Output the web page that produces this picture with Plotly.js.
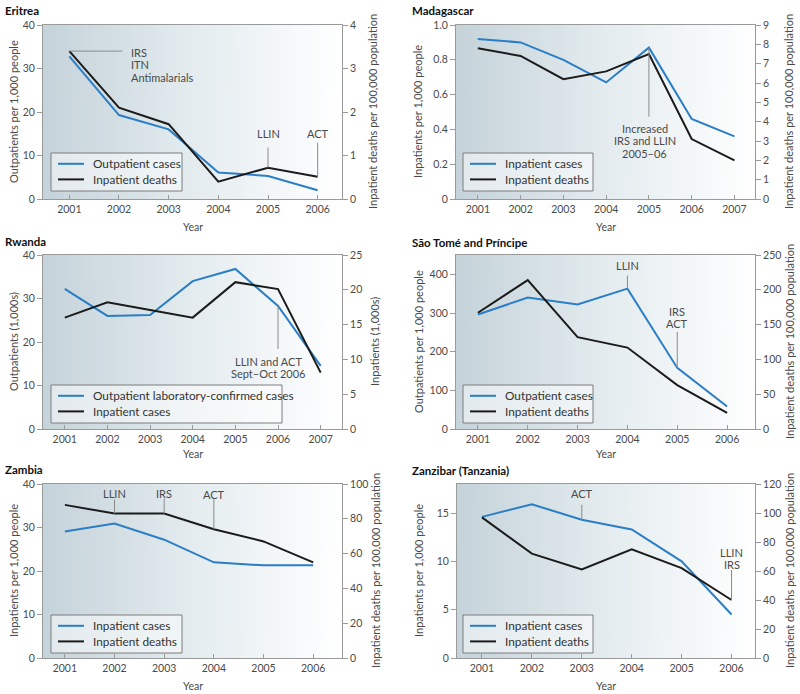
<!DOCTYPE html>
<html><head><meta charset="utf-8">
<script src="https://cdn.plot.ly/plotly-3.0.1.min.js"></script>
<style>html,body{margin:0;padding:0;background:#fff}</style>
</head><body><div id="chart" style="width:800px;height:694px"></div>
<script>
// ---------------- DATA ----------------
const erYears = [2001, 2002, 2003, 2004, 2005, 2006];
const erOutpatients = [32.8, 19.3, 16.0, 6.1, 5.3, 2.0];
const erDeaths = [3.4, 2.1, 1.72, 0.4, 0.72, 0.51];

const madYears = [2001, 2002, 2003, 2004, 2005, 2006, 2007];
const madCases = [0.92, 0.90, 0.80, 0.67, 0.87, 0.46, 0.36];
const madDeaths = [7.8, 7.4, 6.2, 6.6, 7.5, 3.1, 2.0];

const rwYears = [2001, 2002, 2003, 2004, 2005, 2006, 2007];
const rwOutpatients = [32.2, 26.0, 26.2, 34.0, 36.8, 28.3, 14.5];
const rwInpatients = [16.0, 18.2, 17.1, 16.0, 21.1, 20.1, 8.1];

const stpYears = [2001, 2002, 2003, 2004, 2005, 2006];
const stpOutpatients = [296, 340, 322, 363, 158, 58];
const stpDeaths = [167, 214, 132, 117, 63, 23];

const zmYears = [2001, 2002, 2003, 2004, 2005, 2006];
const zmCases = [29.1, 30.9, 27.2, 22.0, 21.3, 21.3];
const zmDeaths = [88, 83, 83, 74, 67, 55];

const zzYears = [2001, 2002, 2003, 2004, 2005, 2006];
const zzCases = [14.6, 15.9, 14.3, 13.3, 10.0, 4.5];
const zzDeaths = [97, 72, 61, 75, 62, 40];

// tick labels
const erLeftTicks = [0, 10, 20, 30, 40];
const erRightTicks = [0, 1, 2, 3, 4];
const madLeftTicks = [0, 0.2, 0.4, 0.6, 0.8, 1.0];
const madLeftLabels = ['0', '0.2', '0.4', '0.6', '0.8', '1.0'];
const madRightTicks = [0, 1, 2, 3, 4, 5, 6, 7, 8, 9];
const rwLeftTicks = [0, 10, 20, 30, 40];
const rwRightTicks = [0, 5, 10, 15, 20, 25];
const stpLeftTicks = [0, 100, 200, 300, 400];
const stpRightTicks = [0, 50, 100, 150, 200, 250];
const zmLeftTicks = [0, 10, 20, 30, 40];
const zmRightTicks = [0, 20, 40, 60, 80, 100];
const zzLeftTicks = [0, 5, 10, 15];
const zzRightTicks = [0, 20, 40, 60, 80, 100, 120];

// ---------------- STYLE ----------------
const W = 800, H = 694;
const FONT = 'Lato, "Open Sans", sans-serif';
const BLUE = '#2a7ec6', BLACK = '#1b1b1b';
const AXC = '#9a9a9a', TXT = '#4a4a4a';

const panels = [
  {title: 'Eritrea', px: [43, 342], py: [25, 199], xr: [2000.47, 2006.49], years: erYears,
   s1: erOutpatients, s2: erDeaths, n1: 'Outpatient cases', n2: 'Inpatient deaths',
   y1r: [0, 40], y1v: erLeftTicks, y1t: erLeftTicks.map(String), y2r: [0, 4], y2v: erRightTicks,
   t1: 'Outpatients per 1,000 people', t2: 'Inpatient deaths per 100,000 population',
   leg: [51, 153, 131], t1x: 14, t2x: 373, ttlY: 10, yearY: 227},
  {title: 'Madagascar', px: [456, 755], py: [25, 199], xr: [2000.49, 2007.48], years: madYears,
   s1: madCases, s2: madDeaths, n1: 'Inpatient cases', n2: 'Inpatient deaths',
   y1r: [0, 1.0], y1v: madLeftTicks, y1t: madLeftLabels, y2r: [0, 9], y2v: madRightTicks,
   t1: 'Inpatients per 1,000 people', t2: 'Inpatient deaths per 100,000 population',
   leg: [463, 153, 130], t1x: 418, t2x: 789, ttlY: 10, yearY: 227},
  {title: 'Rwanda', px: [43, 342], py: [255, 429], xr: [2000.49, 2007.5], years: rwYears,
   s1: rwOutpatients, s2: rwInpatients, n1: 'Outpatient laboratory-confirmed cases', n2: 'Inpatient cases',
   y1r: [0, 40], y1v: rwLeftTicks, y1t: rwLeftTicks.map(String), y2r: [0, 25], y2v: rwRightTicks,
   t1: 'Outpatients (1,000s)', t2: 'Inpatients (1,000s)',
   leg: [51, 385, 231], t1x: 13, t2x: 374, ttlY: 241, yearY: 454},
  {title: 'São Tomé and Príncipe', px: [456, 755], py: [255, 429], xr: [2000.56, 2006.56], years: stpYears,
   s1: stpOutpatients, s2: stpDeaths, n1: 'Outpatient cases', n2: 'Inpatient deaths',
   y1r: [0, 450], y1v: stpLeftTicks, y1t: stpLeftTicks.map(String), y2r: [0, 250], y2v: stpRightTicks,
   t1: 'Outpatients per 1,000 people', t2: 'Inpatient deaths per 100,000 population',
   leg: [463, 385, 130], t1x: 418, t2x: 789, ttlY: 242, yearY: 454},
  {title: 'Zambia', px: [43, 342], py: [484, 658], xr: [2000.56, 2006.58], years: zmYears,
   s1: zmCases, s2: zmDeaths, n1: 'Inpatient cases', n2: 'Inpatient deaths',
   y1r: [0, 40], y1v: zmLeftTicks, y1t: zmLeftTicks.map(String), y2r: [0, 100], y2v: zmRightTicks,
   t1: 'Inpatients per 1,000 people', t2: 'Inpatient deaths per 100,000 population',
   leg: [51, 615, 131], t1x: 13, t2x: 375, ttlY: 469, yearY: 686},
  {title: 'Zanzibar (Tanzania)', px: [457, 755], py: [484, 658], xr: [2000.5, 2006.47], years: zzYears,
   s1: zzCases, s2: zzDeaths, n1: 'Inpatient cases', n2: 'Inpatient deaths',
   y1r: [0, 18], y1v: zzLeftTicks, y1t: zzLeftTicks.map(String), y2r: [0, 120], y2v: zzRightTicks,
   t1: 'Inpatients per 1,000 people', t2: 'Inpatient deaths per 100,000 population',
   leg: [463, 615, 130], t1x: 418, t2x: 789, ttlY: 470, yearY: 686}
];

// callouts: panel, series, point index, text, leader length (px, up +), first text line offset, line step
const callouts = [
  {p: 0, s: 2, i: 0, text: 'IRS<br>ITN<br>Antimalarials', horiz: true, len: 53, tx: 60, ty: -1.2, lh: 12.7},
  {p: 0, s: 2, i: 4, text: 'LLIN', len: 20, ty: 34.5},
  {p: 0, s: 2, i: 5, text: 'ACT', len: 34, ty: 43.3},
  {p: 1, s: 1, i: 4, text: 'Increased<br>IRS and LLIN<br>2005–06', len: -69, ty: -80.4, lh: 12.5, tx: -4},
  {p: 2, s: 1, i: 5, text: 'LLIN and ACT<br>Sept–Oct 2006', len: -43, ty: -55.8, lh: 11.7, tx: -10},
  {p: 3, s: 1, i: 3, text: 'LLIN', len: 13, ty: 23},
  {p: 3, s: 1, i: 4, text: 'IRS<br>ACT', len: 36, ty: 56.7, lh: 12.3},
  {p: 4, s: 2, i: 1, text: 'LLIN', len: 14, ty: 19.6},
  {p: 4, s: 2, i: 2, text: 'IRS', len: 15, ty: 20},
  {p: 4, s: 2, i: 3, text: 'ACT', len: 30, ty: 35},
  {p: 5, s: 1, i: 2, text: 'ACT', len: 15, ty: 26},
  {p: 5, s: 2, i: 5, text: 'LLIN<br>IRS', len: 30, ty: 48, lh: 12.3}
];

function gradientURL() {
  const c = document.createElement('canvas');
  c.width = 400; c.height = 4;
  const g = c.getContext('2d');
  const gr = g.createLinearGradient(0, 0, 400, 0);
  gr.addColorStop(0, 'rgb(197,211,218)');
  gr.addColorStop(0.5, 'rgb(228,236,239)');
  gr.addColorStop(1, 'rgb(255,255,255)');
  g.fillStyle = gr; g.fillRect(0, 0, 400, 4);
  return c.toDataURL();
}
const grad = gradientURL();

const data = [];
const layout = {
  width: W, height: H, margin: {l: 0, r: 0, t: 0, b: 0},
  paper_bgcolor: '#ffffff', plot_bgcolor: 'rgba(0,0,0,0)',
  font: {family: FONT, color: TXT, size: 10.5},
  showlegend: false, annotations: [], shapes: [], images: []
};

panels.forEach((P, k) => {
  const n = k + 1;
  const xs = n === 1 ? '' : String(n);
  const yl = 2 * k + 1, yr = 2 * k + 2;
  const ylS = yl === 1 ? '' : String(yl);
  const yrS = String(yr);
  const xd = [P.px[0] / W, P.px[1] / W];
  const yd = [1 - P.py[1] / H, 1 - P.py[0] / H];

  data.push({x: P.years, y: P.s1, type: 'scatter', mode: 'lines', name: P.n1,
    line: {color: BLUE, width: 2}, xaxis: 'x' + xs, yaxis: 'y' + ylS, hoverinfo: 'skip'});
  data.push({x: P.years, y: P.s2, type: 'scatter', mode: 'lines', name: P.n2,
    line: {color: BLACK, width: 2}, xaxis: 'x' + xs, yaxis: 'y' + yrS, hoverinfo: 'skip'});

  const tf = {size: 10.5, color: TXT};
  layout['xaxis' + xs] = {domain: xd, range: P.xr, anchor: 'y' + ylS, tickvals: P.years,
    ticks: 'inside', ticklen: 4, tickcolor: AXC, showline: true, linecolor: AXC, linewidth: 1,
    mirror: true, showgrid: false, zeroline: false, tickfont: tf, fixedrange: true};
  layout['yaxis' + ylS] = {domain: yd, range: P.y1r, anchor: 'x' + xs, tickvals: P.y1v, ticktext: P.y1t,
    ticks: 'outside', ticklen: 5, tickcolor: AXC, showline: true, linecolor: AXC, linewidth: 1,
    showgrid: false, zeroline: false, tickfont: tf, fixedrange: true};
  layout['yaxis' + yrS] = {overlaying: 'y' + ylS, side: 'right', range: P.y2r, anchor: 'x' + xs,
    tickvals: P.y2v, ticks: 'outside', ticklen: 5, tickcolor: AXC, showline: true, linecolor: AXC,
    linewidth: 1, showgrid: false, zeroline: false, tickfont: tf, fixedrange: true};

  layout.images.push({source: grad, xref: 'paper', yref: 'paper', x: xd[0], y: yd[1],
    sizex: xd[1] - xd[0], sizey: yd[1] - yd[0], sizing: 'stretch', layer: 'below',
    xanchor: 'left', yanchor: 'top'});

  // legend box (drawn manually for compact spacing)
  const bx = P.leg[0], by = P.leg[1], bw = P.leg[2], bh = 38;
  layout.shapes.push({type: 'rect', xref: 'paper', yref: 'paper', x0: bx / W, x1: (bx + bw) / W,
    y0: 1 - by / H, y1: 1 - (by + bh) / H, line: {color: '#7d7d7d', width: 1},
    fillcolor: 'rgba(255,255,255,0.5)'});
  [[P.n1, BLUE, 10.8], [P.n2, BLACK, 26.4]].forEach(([nm, col, dy]) => {
    const yy = 1 - (by + dy) / H;
    layout.shapes.push({type: 'line', xref: 'paper', yref: 'paper', x0: (bx + 7) / W, x1: (bx + 33) / W,
      y0: yy, y1: yy, line: {color: col, width: 2}});
    layout.annotations.push({text: nm, xref: 'paper', yref: 'paper', x: (bx + 40) / W, y: yy,
      xanchor: 'left', yanchor: 'middle', showarrow: false, font: {size: 11.8, color: '#333'}});
  });

  // panel title
  layout.annotations.push({text: '<b>' + P.title + '</b>', xref: 'paper', yref: 'paper',
    x: (n % 2 === 1 ? 3 : 410) / W, y: 1 - P.ttlY / H, xanchor: 'left', yanchor: 'middle',
    showarrow: false, font: {family: FONT, size: 11.5, color: '#111'}});
  // axis titles
  const midY = 1 - (P.py[0] + P.py[1]) / 2 / H;
  layout.annotations.push({text: P.t1, xref: 'paper', yref: 'paper', x: P.t1x / W, y: midY,
    textangle: -90, showarrow: false, xanchor: 'center', yanchor: 'middle', font: {size: 11, color: TXT}});
  layout.annotations.push({text: P.t2, xref: 'paper', yref: 'paper', x: P.t2x / W, y: midY,
    textangle: -90, showarrow: false, xanchor: 'center', yanchor: 'middle', font: {size: 11, color: TXT}});
  layout.annotations.push({text: 'Year', xref: 'paper', yref: 'paper', x: (xd[0] + xd[1]) / 2,
    y: 1 - P.yearY / H, showarrow: false, xanchor: 'center', yanchor: 'middle', font: {size: 10.5, color: TXT}});
});

callouts.forEach(C => {
  const P = panels[C.p];
  const n = C.p + 1;
  const xs = n === 1 ? '' : String(n);
  const yIdx = C.s === 1 ? 2 * C.p + 1 : 2 * C.p + 2;
  const yS = yIdx === 1 ? '' : String(yIdx);
  const xv = P.years[C.i];
  const yv = (C.s === 1 ? P.s1 : P.s2)[C.i];
  const shp = {type: 'line', xref: 'x' + xs, yref: 'y' + yS, xsizemode: 'pixel', ysizemode: 'pixel',
    xanchor: xv, yanchor: yv, line: {color: '#8a8a8a', width: 1}};
  if (C.horiz) { shp.x0 = 0; shp.x1 = C.len; shp.y0 = 0; shp.y1 = 0; }
  else { shp.x0 = 0; shp.x1 = 0; shp.y0 = 0; shp.y1 = C.len; }
  layout.shapes.push(shp);
  C.text.split('<br>').forEach((line, j) => {
    layout.annotations.push({text: line, xref: 'x' + xs, yref: 'y' + yS, x: xv, y: yv, showarrow: false,
      font: {size: 11, color: TXT}, yshift: C.ty - j * (C.lh || 0), xshift: C.tx || 0,
      xanchor: C.horiz ? 'left' : 'center', yanchor: 'middle'});
  });
});

Plotly.newPlot('chart', data, layout, {staticPlot: true, displayModeBar: false});
</script>
</body></html>
